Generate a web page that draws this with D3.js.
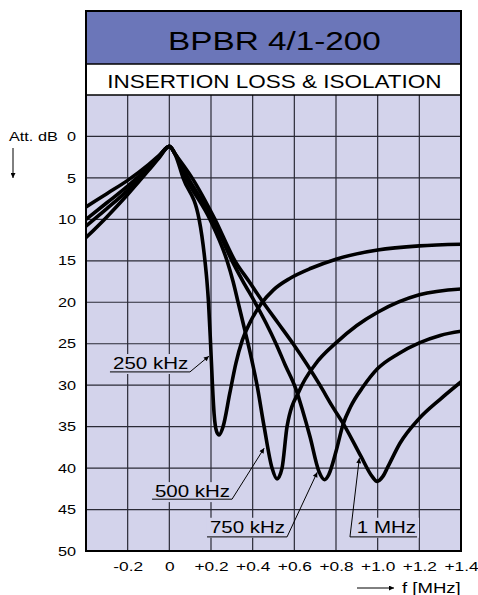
<!DOCTYPE html>
<html>
<head>
<meta charset="utf-8">
<script src="https://cdn.jsdelivr.net/npm/d3@7"></script>
<style>
body { margin: 0; background: #fff; }
text { font-family: "Liberation Sans", Arial, sans-serif; fill: #000; }
</style>
</head>
<body>
<svg class="chart"></svg>
<script>
var WIDTH = 478;
var HEIGHT = 595;

var LEFT = 86;
var RIGHT = 461;
var TOP = 11;
var BAND = 64;
var PLOT_TOP = 95;
var BOTTOM = 551;

var BLUE = "#6b76b9";
var PLOT_BG = "#d3d3eb";
var GRID = "#2a2a36";

// axis ticks
var xTicks = [-0.2, 0, 0.2, 0.4, 0.6, 0.8, 1.0, 1.2, 1.4];
var xTickLabels = ["-0.2", "0", "+0.2", "+0.4", "+0.6", "+0.8", "+1.0", "+1.2", "+1.4"];
var yTicks = [0, 5, 10, 15, 20, 25, 30, 35, 40, 45, 50];

// curves: frequency offset (MHz) / attenuation (dB)
var freq250 = [-0.4, -0.3, -0.2, -0.1, -0.05, 0, 0.03, 0.066, 0.143, 0.171, 0.18, 0.188, 0.198, 0.207, 0.215, 0.227, 0.239, 0.258, 0.29, 0.32, 0.35, 0.39, 0.44, 0.5, 0.58, 0.68, 0.8, 1.0, 1.2, 1.4];
var att250 = [12.2, 9.7, 7.0, 4.1, 2.6, 1.2, 2.3, 5, 10, 15, 17.3, 20, 25, 30, 33.5, 35.6, 36, 35, 31, 27.3, 24.6, 22.3, 20.2, 18.5, 17.1, 15.9, 14.8, 13.7, 13.2, 13.0];

var freq500 = [-0.4, -0.3, -0.2, -0.1, -0.05, 0, 0.03, 0.08, 0.195, 0.277, 0.306, 0.33, 0.354, 0.378, 0.421, 0.455, 0.493, 0.517, 0.541, 0.565, 0.627, 0.7, 0.8, 0.9, 1.0, 1.2, 1.4];
var att500 = [10.8, 8.7, 6.5, 3.9, 2.5, 1.2, 2.2, 5, 10, 15, 17.5, 20, 22.5, 25, 30, 35, 40, 41.3, 40, 35, 30.5, 27.5, 24.9, 22.8, 21.2, 19.1, 18.4];

var freq750 = [-0.4, -0.3, -0.2, -0.1, -0.05, 0, 0.03, 0.09, 0.21, 0.301, 0.354, 0.411, 0.464, 0.512, 0.555, 0.608, 0.639, 0.675, 0.718, 0.745, 0.765, 0.8, 0.833, 0.87, 0.93, 1.0, 1.1, 1.2, 1.3, 1.4];
var att750 = [10.0, 8.0, 6.0, 3.7, 2.4, 1.2, 2.2, 5, 10, 15, 17.5, 20, 22.5, 25, 27.5, 30.5, 33, 36.2, 40.4, 41.4, 40.8, 38, 34.8, 32.6, 30.2, 28.0, 26.2, 24.9, 24.0, 23.5];

var freq1M = [-0.4, -0.3, -0.2, -0.1, -0.05, 0, 0.03, 0.109, 0.219, 0.315, 0.383, 0.45, 0.522, 0.594, 0.661, 0.723, 0.781, 0.843, 0.92, 0.973, 0.997, 1.025, 1.05, 1.107, 1.2, 1.3, 1.4];
var att1M = [8.5, 6.9, 5.3, 3.4, 2.3, 1.2, 2.2, 5, 10, 15, 17.5, 20, 22.5, 25, 27.5, 30, 32.5, 35, 38.6, 41, 41.6, 41, 39.8, 37, 34, 31.7, 29.6];

var seriesNames = ["250 kHz", "500 kHz", "750 kHz", "1 MHz"];
var series = [
    { name: seriesNames[0], f: freq250, a: att250 },
    { name: seriesNames[1], f: freq500, a: att500 },
    { name: seriesNames[2], f: freq750, a: att750 },
    { name: seriesNames[3], f: freq1M, a: att1M }
];

// label placement, in chart units (MHz, dB)
var notes = [
    { text: seriesNames[0], tx: -0.27, ty: 28.05, u0: -0.285, u1: 0.099, uy: 28.4, from: 1, px: 0.19, py: 26.5 },
    { text: seriesNames[1], tx: -0.069, ty: 43.5, u0: -0.083, u1: 0.301, uy: 43.75, from: 1, px: 0.455, py: 37.6 },
    { text: seriesNames[2], tx: 0.195, ty: 47.8, u0: 0.181, u1: 0.565, uy: 48.3, from: 1, px: 0.71, py: 40.5 },
    { text: seriesNames[3], tx: 0.9, ty: 47.8, u0: 0.867, u1: 1.189, uy: 48.3, from: 0, px: 0.912, py: 38.8 }
];

var x = d3.scaleLinear().domain([-0.4, 1.4]).range([LEFT, RIGHT]);
var y = d3.scaleLinear().domain([-5, 50]).range([PLOT_TOP, BOTTOM]);

var svg = d3.select(".chart")
    .attr("width", WIDTH)
    .attr("height", HEIGHT);

// the glyphs in the original are wide, so stretch text horizontally
function stretch(sel, k) {
    sel.each(function() {
        var w = this.getComputedTextLength();
        d3.select(this)
            .attr("textLength", w * k)
            .attr("lengthAdjust", "spacingAndGlyphs");
    });
}

var defs = svg.append("defs");
defs.append("marker")
    .attr("id", "arrow")
    .attr("viewBox", "0 0 10 10")
    .attr("refX", 10)
    .attr("refY", 5)
    .attr("markerWidth", 8)
    .attr("markerHeight", 5)
    .attr("markerUnits", "userSpaceOnUse")
    .attr("orient", "auto")
    .append("path")
    .attr("d", "M0,0 L10,5 L0,10 z")
    .attr("fill", "#000");

defs.append("clipPath")
    .attr("id", "plot-clip")
    .append("rect")
    .attr("x", LEFT)
    .attr("y", PLOT_TOP)
    .attr("width", RIGHT - LEFT)
    .attr("height", BOTTOM - PLOT_TOP);

// header bands
svg.append("rect")
    .attr("x", LEFT).attr("y", TOP)
    .attr("width", RIGHT - LEFT).attr("height", BAND - TOP)
    .attr("fill", BLUE);

svg.append("rect")
    .attr("x", LEFT).attr("y", BAND)
    .attr("width", RIGHT - LEFT).attr("height", PLOT_TOP - BAND)
    .attr("fill", "#fff");

svg.append("rect")
    .attr("x", LEFT).attr("y", PLOT_TOP)
    .attr("width", RIGHT - LEFT).attr("height", BOTTOM - PLOT_TOP)
    .attr("fill", PLOT_BG);

svg.append("text")
    .text("BPBR 4/1-200")
    .attr("x", (LEFT + RIGHT) / 2 + 1)
    .attr("y", 50)
    .attr("text-anchor", "middle")
    .attr("font-size", 26)
    .call(stretch, 1.28);

svg.append("text")
    .text("INSERTION LOSS & ISOLATION")
    .attr("x", (LEFT + RIGHT) / 2 + 1)
    .attr("y", 88)
    .attr("text-anchor", "middle")
    .attr("font-size", 18)
    .call(stretch, 1.25);

// grid
svg.append("g").selectAll("line")
    .data(xTicks.slice(0, -1))
    .enter()
    .append("line")
    .attr("x1", function(d) { return x(d); })
    .attr("x2", function(d) { return x(d); })
    .attr("y1", PLOT_TOP)
    .attr("y2", BOTTOM)
    .attr("stroke", GRID)
    .attr("stroke-width", 1.2);

svg.append("g").selectAll("line")
    .data(yTicks.slice(0, -1))
    .enter()
    .append("line")
    .attr("x1", LEFT)
    .attr("x2", RIGHT)
    .attr("y1", function(d) { return y(d); })
    .attr("y2", function(d) { return y(d); })
    .attr("stroke", GRID)
    .attr("stroke-width", 1.2);

// axes (labels only)
var xAxis = svg.append("g")
    .attr("transform", "translate(0," + BOTTOM + ")")
    .call(d3.axisBottom(x)
        .tickValues(xTicks)
        .tickFormat(function(d, i) { return xTickLabels[i]; })
        .tickSize(0)
        .tickPadding(10.5));
xAxis.select(".domain").remove();
xAxis.selectAll("text")
    .attr("font-size", 13.5)
    .call(stretch, 1.28);

var yAxis = svg.append("g")
    .attr("transform", "translate(" + LEFT + ",0)")
    .call(d3.axisLeft(y)
        .tickValues(yTicks)
        .tickSize(0)
        .tickPadding(10));
yAxis.select(".domain").remove();
yAxis.selectAll("text")
    .attr("font-size", 13)
    .call(stretch, 1.25);

svg.append("text")
    .text("Att. dB")
    .attr("x", 9)
    .attr("y", y(0) + 4.5)
    .attr("font-size", 13)
    .call(stretch, 1.25);

svg.append("line")
    .attr("x1", 13).attr("y1", 148)
    .attr("x2", 13).attr("y2", 178)
    .attr("stroke", "#000")
    .attr("stroke-width", 1)
    .attr("marker-end", "url(#arrow)");

svg.append("text")
    .text("f [MHz]")
    .attr("x", 402)
    .attr("y", 593)
    .attr("font-size", 14.5)
    .call(stretch, 1.28);

svg.append("line")
    .attr("x1", 357).attr("y1", 588)
    .attr("x2", 394).attr("y2", 588)
    .attr("stroke", "#000")
    .attr("stroke-width", 1)
    .attr("marker-end", "url(#arrow)");

// curve labels with knock-out background
var noteG = svg.append("g").selectAll("g")
    .data(notes)
    .enter()
    .append("g");

var noteBg = noteG.append("rect").attr("fill", PLOT_BG);

var noteText = noteG.append("text")
    .text(function(d) { return d.text; })
    .attr("x", function(d) { return x(d.tx); })
    .attr("y", function(d) { return y(d.ty); })
    .attr("font-size", 16)
    .call(stretch, 1.28);

noteText.each(function(d, i) {
    var b = this.getBBox();
    d3.select(noteBg.nodes()[i])
        .attr("x", b.x - 3)
        .attr("y", b.y - 1)
        .attr("width", b.width + 6)
        .attr("height", b.height + 3);
});

noteG.append("line")
    .attr("x1", function(d) { return x(d.u0); })
    .attr("x2", function(d) { return x(d.u1); })
    .attr("y1", function(d) { return y(d.uy); })
    .attr("y2", function(d) { return y(d.uy); })
    .attr("stroke", "#000")
    .attr("stroke-width", 1);

noteG.append("line")
    .attr("x1", function(d) { return x(d.from ? d.u1 : d.u0); })
    .attr("y1", function(d) { return y(d.uy); })
    .attr("x2", function(d) { return x(d.px); })
    .attr("y2", function(d) { return y(d.py); })
    .attr("stroke", "#000")
    .attr("stroke-width", 1)
    .attr("marker-end", "url(#arrow)");

// curves
var line = d3.line()
    .x(function(d) { return x(d[0]); })
    .y(function(d) { return y(d[1]); })
    .curve(d3.curveMonotoneX);

svg.append("g")
    .attr("clip-path", "url(#plot-clip)")
    .selectAll("path")
    .data(series)
    .enter()
    .append("path")
    .attr("d", function(s) { return line(d3.zip(s.f, s.a)); })
    .attr("fill", "none")
    .attr("stroke", "#000")
    .attr("stroke-width", 3.6)
    .attr("stroke-linejoin", "round");

// frame
svg.append("line")
    .attr("x1", LEFT).attr("x2", RIGHT)
    .attr("y1", BAND).attr("y2", BAND)
    .attr("stroke", "#000").attr("stroke-width", 1.5);

svg.append("line")
    .attr("x1", LEFT).attr("x2", RIGHT)
    .attr("y1", PLOT_TOP).attr("y2", PLOT_TOP)
    .attr("stroke", "#000").attr("stroke-width", 1.5);

svg.append("rect")
    .attr("x", LEFT).attr("y", TOP)
    .attr("width", RIGHT - LEFT).attr("height", BOTTOM - TOP)
    .attr("fill", "none")
    .attr("stroke", "#000")
    .attr("stroke-width", 2);
</script>
</body>
</html>
